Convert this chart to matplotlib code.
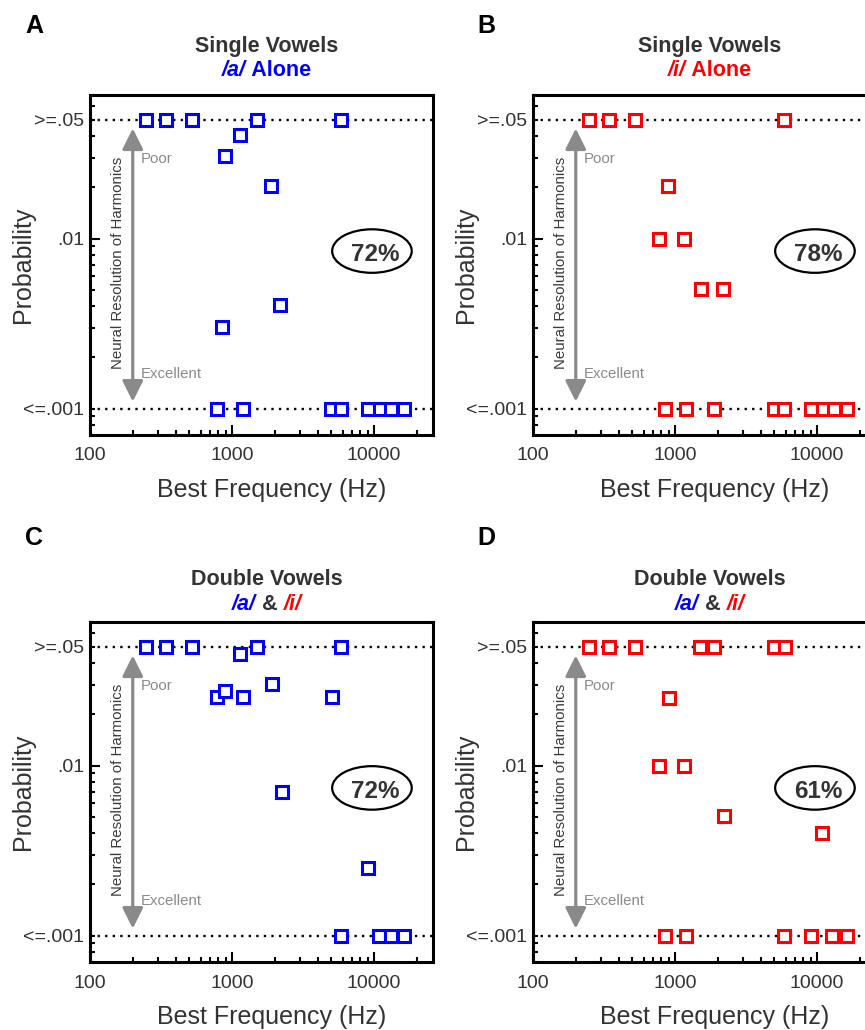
import matplotlib
matplotlib.use("Agg")
import matplotlib.pyplot as plt
from matplotlib.patches import Ellipse
from matplotlib.ticker import LogLocator, NullFormatter

plt.rcParams['font.family'] = ['Liberation Sans', 'DejaVu Sans']

# ---- data: best frequency (Hz) and probability per unit ----
# A: single vowel /a/ alone
a_alone_bf = [248, 344, 522, 1510, 5820, 898, 1145, 1896, 850, 2193,
              783, 1190, 4940, 5870, 9120, 11000, 13100, 16300]
a_alone_p = [0.05, 0.05, 0.05, 0.05, 0.05, 0.0305, 0.0406, 0.0203, 0.00303, 0.00407,
             0.001, 0.001, 0.001, 0.001, 0.001, 0.001, 0.001, 0.001]

# B: single vowel /i/ alone
i_alone_bf = [248, 344, 522, 5820, 898, 775, 1151, 1517, 2193,
              850, 1190, 1896, 4940, 5870, 9120, 11000, 13100, 16300]
i_alone_p = [0.05, 0.05, 0.05, 0.05, 0.0203, 0.01, 0.01, 0.00503, 0.00503,
             0.001, 0.001, 0.001, 0.001, 0.001, 0.001, 0.001, 0.001, 0.001]

# C: double vowel, /a/ component
a_double_bf = [248, 344, 522, 1510, 5820, 1145, 783, 898, 1195, 1915, 5080, 2254, 9120,
               5870, 10850, 13100, 16300]
a_double_p = [0.05, 0.05, 0.05, 0.05, 0.05, 0.0451, 0.0255, 0.0275, 0.0255, 0.0301, 0.0255,
              0.00701, 0.00251, 0.001, 0.001, 0.001, 0.001]

# D: double vowel, /i/ component
i_double_bf = [248, 344, 522, 1500, 1896, 4940, 5980, 912, 775, 1163, 2218, 10800,
               850, 1190, 5820, 9120, 12750, 16300]
i_double_p = [0.05, 0.05, 0.05, 0.05, 0.05, 0.05, 0.05, 0.0251, 0.01, 0.01, 0.00505, 0.004,
              0.001, 0.001, 0.001, 0.001, 0.001, 0.001]

pct_labels = ["72%", "78%", "72%", "61%"]
panel_letters = ["A", "B", "C", "D"]
title_top = ["Single Vowels", "Single Vowels", "Double Vowels", "Double Vowels"]
xtick_vals = [100, 1000, 10000]
xtick_labels = ["100", "1000", "10000"]
ytick_vals = [0.001, 0.01, 0.05]
ytick_labels = ["<=.001", ".01", ">=.05"]

BLUE = '#0000ff'
RED = '#ff0000'
DARK = '#333333'
GREY = '#8a8a8a'

W, H = 865, 1030
fig = plt.figure(figsize=(W / 100, H / 100), dpi=100)
renderer = fig.canvas.get_renderer()


def px_axes(x0, y0, w, h):
    return fig.add_axes([x0 / W, 1 - (y0 + h) / H, w / W, h / H])


def color_line(ax, parts, xc, y, size):
    # multi-coloured title line, centred on xc (axes fraction)
    texts = []
    for s, c, st in parts:
        t = ax.text(0, y, s, color=c, style=st, weight='bold', fontsize=size,
                    transform=ax.transAxes, ha='left', va='baseline')
        texts.append(t)
    ax_w = ax.get_window_extent(renderer).width
    widths = [t.get_window_extent(renderer).width / ax_w for t in texts]
    x = xc - sum(widths) / 2
    for t, w in zip(texts, widths):
        t.set_x(x)
        x += w


panels = [
    (90, 95, a_alone_bf, a_alone_p, BLUE),
    (533, 95, i_alone_bf, i_alone_p, RED),
    (90, 622, a_double_bf, a_double_p, BLUE),
    (533, 622, i_double_bf, i_double_p, RED),
]
subtitles = [
    [("/a/", BLUE, 'italic'), (" Alone", BLUE, 'normal')],
    [("/i/", RED, 'italic'), (" Alone", RED, 'normal')],
    [("/a/", BLUE, 'italic'), (" & ", DARK, 'normal'), ("/i/", RED, 'italic')],
    [("/a/", BLUE, 'italic'), (" & ", DARK, 'normal'), ("/i/", RED, 'italic')],
]

for k, (x0, y0, bf, p, col) in enumerate(panels):
    ax = px_axes(x0, y0, 343, 340)
    ax.set_xscale('log')
    ax.set_yscale('log')
    ax.set_xlim(100, 26000)
    ax.set_ylim(0.0007, 0.07)

    ax.axhline(0.05, color='black', lw=1.7, ls=(0, (1, 2.2)), zorder=1)
    ax.axhline(0.001, color='black', lw=1.7, ls=(0, (1, 2.2)), zorder=1)

    ax.plot(bf, p, ls='none', marker='s', ms=8.4, mew=2.2, mec=col, mfc='white',
            zorder=3, clip_on=False)

    for s in ax.spines.values():
        s.set_linewidth(2.2)

    ax.set_xticks(xtick_vals, xtick_labels)
    ax.xaxis.set_minor_locator(LogLocator(base=10, subs=range(2, 10)))
    ax.xaxis.set_minor_formatter(NullFormatter())
    ax.set_yticks(ytick_vals, ytick_labels)
    ax.yaxis.set_minor_locator(LogLocator(base=10, subs=range(2, 10)))
    ax.yaxis.set_minor_formatter(NullFormatter())
    ax.tick_params(which='both', direction='in', width=1.5, color='black',
                   labelcolor=DARK, labelsize=14, top=False, right=False)
    ax.tick_params(which='minor', length=3.8)
    ax.tick_params(axis='y', which='major', length=3.8, pad=4)
    ax.tick_params(axis='x', which='major', length=7.5, pad=9)
    ax.yaxis.get_major_ticks()[1].tick1line.set_markersize(7.5)

    ax.set_xlabel('Best Frequency (Hz)', fontsize=18, color=DARK)
    ax.xaxis.set_label_coords(0.53, -0.182)
    ax.xaxis.label.set_va('baseline')
    ax.set_ylabel('Probability', fontsize=18, color=DARK)
    ax.yaxis.set_label_coords(-0.16, 0.5)

    # titles
    row_top = k < 2
    t1 = 1.126 if row_top else 1.109
    t2 = 1.056 if row_top else 1.035
    ax.text(0.515, t1, title_top[k], transform=ax.transAxes, ha='center',
            va='baseline', fontsize=15.5, weight='bold', color=DARK)
    color_line(ax, subtitles[k], 0.515, t2, 15.5)

    # resolution arrow and labels
    ax.annotate('', xy=(200, 0.0011), xytext=(200, 0.0445), xycoords='data',
                arrowprops=dict(arrowstyle='<|-|>,head_length=0.9,head_width=0.45',
                                color=GREY, lw=2.3, mutation_scale=14,
                                shrinkA=0, shrinkB=0), zorder=2)
    ax.text(0.082, 0.507, 'Neural Resolution of Harmonics', transform=ax.transAxes,
            rotation=90, ha='center', va='center', fontsize=10.8, color='#3a3a3a')
    ax.text(0.149, 0.812, 'Poor', transform=ax.transAxes, ha='left', va='center',
            fontsize=10.8, color=GREY)
    ax.text(0.149, 0.178, 'Excellent', transform=ax.transAxes, ha='left', va='center',
            fontsize=10.8, color=GREY)

    # percentage in ellipse
    ey = 0.541 if row_top else 0.512
    ax.add_patch(Ellipse((0.822, ey), 0.232, 0.128, transform=ax.transAxes,
                         fill=False, ec='black', lw=1.6, zorder=4))
    ax.text(0.832, ey - 0.029, pct_labels[k], transform=ax.transAxes, ha='center',
            va='baseline', fontsize=17.5, weight='bold', color=DARK, zorder=5)

# panel letters
letter_pos = [(25, 33), (477, 33), (25, 545), (477, 545)]
for (lx, ly), lab in zip(letter_pos, panel_letters):
    fig.text(lx / W, 1 - ly / H, lab, fontsize=18, weight='bold', color='black',
             ha='left', va='baseline')

fig.savefig('out.png', dpi=100)
